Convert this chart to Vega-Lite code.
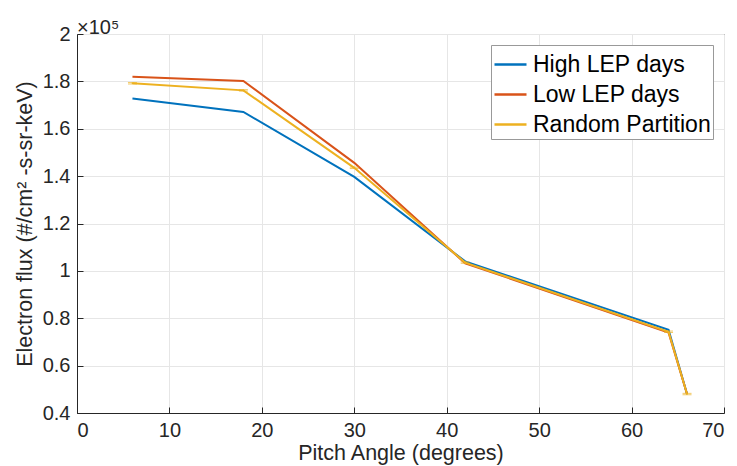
{
  "$schema": "https://vega.github.io/schema/vega-lite/v6.json",
  "width": 647,
  "height": 379,
  "autosize": {"type": "none"},
  "padding": {"left": 77, "top": 34, "right": 13, "bottom": 53},
  "background": "white",
  "title": {"text": "×10⁵", "anchor": "start", "frame": "group", "offset": 5, "dy": 19, "font": "Liberation Sans", "fontSize": 20, "fontWeight": "normal", "color": "#262626"},
  "config": {
    "font": "Liberation Sans",
    "view": {"stroke": "#262626", "strokeWidth": 1},
    "axis": {"labelFont": "Liberation Sans", "titleFont": "Liberation Sans", "labelFontSize": 20, "titleFontSize": 21.5, "titleFontWeight": "normal", "labelColor": "#262626", "titleColor": "#262626", "domainColor": "#262626", "tickColor": "#262626", "gridColor": "#e6e6e6", "gridOpacity": 1, "tickSize": -6, "labelPadding": 13}
  },
  "data": {"values": [
    {"angle": 6, "flux": 1.728, "series": "High LEP days"},
    {"angle": 18, "flux": 1.671, "series": "High LEP days"},
    {"angle": 30, "flux": 1.397, "series": "High LEP days"},
    {"angle": 42, "flux": 1.040, "series": "High LEP days"},
    {"angle": 64, "flux": 0.751, "series": "High LEP days"},
    {"angle": 66, "flux": 0.480, "series": "High LEP days"},
    {"angle": 6, "flux": 1.820, "series": "Low LEP days"},
    {"angle": 18, "flux": 1.802, "series": "Low LEP days"},
    {"angle": 30, "flux": 1.456, "series": "Low LEP days"},
    {"angle": 42, "flux": 1.032, "series": "Low LEP days"},
    {"angle": 64, "flux": 0.740, "series": "Low LEP days"},
    {"angle": 66, "flux": 0.480, "series": "Low LEP days"},
    {"angle": 6, "flux": 1.792, "series": "Random Partition", "lo": 1.789, "hi": 1.795},
    {"angle": 18, "flux": 1.762, "series": "Random Partition", "lo": 1.759, "hi": 1.765},
    {"angle": 30, "flux": 1.435, "series": "Random Partition", "lo": 1.432, "hi": 1.438},
    {"angle": 42, "flux": 1.035, "series": "Random Partition", "lo": 1.032, "hi": 1.038},
    {"angle": 64, "flux": 0.743, "series": "Random Partition", "lo": 0.740, "hi": 0.746},
    {"angle": 66, "flux": 0.480, "series": "Random Partition", "lo": 0.477, "hi": 0.483}
  ]},
  "layer": [
    {
      "mark": {"type": "line", "strokeWidth": 2, "clip": true},
      "encoding": {
        "x": {"field": "angle", "type": "quantitative", "scale": {"domain": [0, 70], "nice": false}, "axis": {"values": [0, 10, 20, 30, 40, 50, 60, 70], "title": "Pitch Angle (degrees)", "titlePadding": 2}},
        "y": {"field": "flux", "type": "quantitative", "scale": {"domain": [0.4, 2], "nice": false, "zero": false}, "axis": {"values": [0.4, 0.6, 0.8, 1, 1.2, 1.4, 1.6, 1.8, 2], "format": "~g", "title": "Electron flux (#/cm² -s-sr-keV)", "titlePadding": 6}},
        "color": {"field": "series", "type": "nominal", "scale": {"domain": ["High LEP days", "Low LEP days", "Random Partition"], "range": ["#0072BD", "#D95319", "#EDB120"]},
          "legend": {"title": null, "orient": "top-right", "offset": 11, "symbolType": "stroke", "symbolSize": 1024, "symbolStrokeWidth": 2.5, "labelFontSize": 23, "labelFont": "Liberation Sans", "labelColor": "#000000", "fillColor": "white", "strokeColor": "#999999", "padding": 2, "rowPadding": -4, "labelOffset": 5, "labelLimit": 300}}
      }
    },
    {
      "transform": [{"filter": "datum.series === 'Random Partition'"}],
      "mark": {"type": "errorbar", "ticks": {"size": 9, "color": "#EDB120", "strokeWidth": 1.5}, "rule": {"color": "#EDB120", "strokeWidth": 1.5}},
      "encoding": {
        "x": {"field": "angle", "type": "quantitative", "title": "Pitch Angle (degrees)"},
        "y": {"field": "lo", "type": "quantitative", "title": "Electron flux (#/cm² -s-sr-keV)"},
        "y2": {"field": "hi"}
      }
    }
  ]
}
